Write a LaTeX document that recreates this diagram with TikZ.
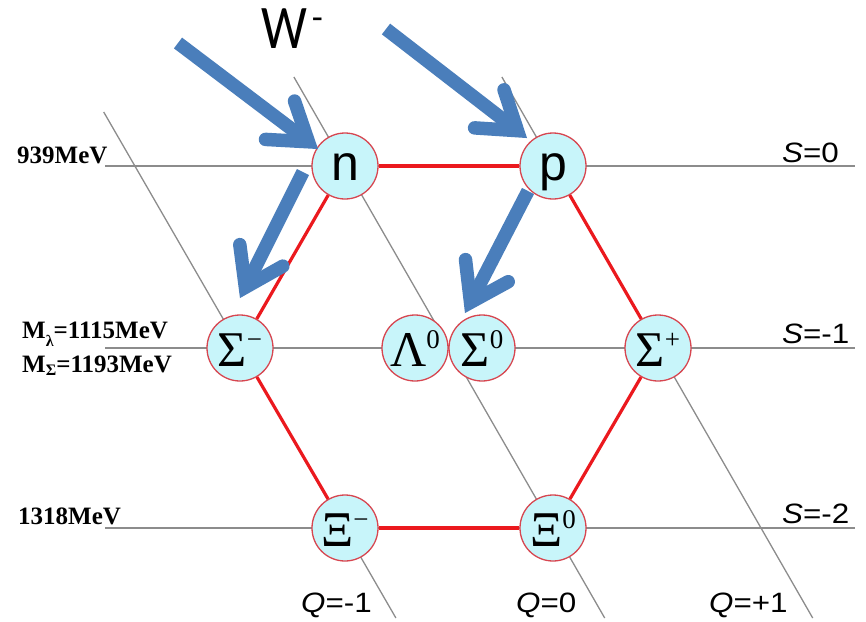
\documentclass[tikz,border=0pt]{standalone}
\usepackage{fontspec}
\setmainfont{Liberation Serif}
\newfontfamily\arialf{Liberation Sans}
\newfontfamily\calibrif{Carlito}
\usetikzlibrary{calc}
\definecolor{gridgray}{RGB}{140,140,140}
\definecolor{hexred}{RGB}{235,25,30}
\definecolor{ballfill}{RGB}{200,245,250}
\definecolor{balledge}{RGB}{215,70,80}
\definecolor{wblue}{RGB}{74,126,187}
\tikzset{
  qsline/.style={gridgray, line width=1.3pt},
  hexedge/.style={hexred, line width=3.2pt},
  baryon/.style={circle, draw=balledge, line width=1.3pt, fill=ballfill,
    minimum size=66pt, inner sep=0pt},
  latinb/.style={baryon, text height=28pt, text depth=0pt,
    font=\arialf\fontsize{50}{50}\selectfont},
  greekb/.style={baryon, text height=36pt, text depth=0pt,
    font=\fontsize{50}{50}\selectfont},
  masslabel/.style={anchor=base west, inner sep=0pt,
    font=\bfseries\fontsize{25}{25}\selectfont},
  qnlabel/.style={anchor=base west, inner sep=0pt,
    font=\arialf\fontsize{28}{28}\selectfont},
  warrow/.style={wblue, line width=13.5pt}
}
\newcommand\supsc[1]{\raisebox{18pt}{\fontsize{27}{27}\selectfont #1}}
\newcommand\qnum[1]{\scalebox{1.12}[1]{#1}}
\newcommand\wbosonarrow[2]{%
  \coordinate (wv) at ($(#2)!12pt!(#1)$);
  \draw[warrow, line cap=butt] (#1) -- (wv);
  \draw[warrow, line cap=round, line join=miter]
    ($(wv)!43pt!34:(#1)$) -- (wv) -- ($(wv)!43pt!-34:(#1)$);
}
\begin{document}
\begin{tikzpicture}[x=1pt,y=-1pt]
\useasboundingbox (0,0) rectangle (866,621);
% strangeness lines
\draw[qsline] (105,166) -- (855,166);
\draw[qsline] (105,348) -- (855,348);
\draw[qsline] (105,528) -- (855,528);
% charge lines
\draw[qsline] (103.7,112) -- (395.9,618);
\draw[qsline] (293.9,77) -- (604.7,618);
\draw[qsline] (501.9,77) -- (812.7,618);
% baryons
\node[latinb] (n) at (345,166) {n};
\node[latinb] (p) at (553,166) {p};
\node[greekb] (Sm) at (240,348) {Σ\supsc{−}};
\node[greekb] (L0) at (415,348) {Λ\supsc{0}};
\node[greekb] (S0) at (482,348) {Σ\supsc{0}};
\node[greekb] (Sp) at (658,348) {Σ\supsc{+}};
\node[greekb] (Xm) at (345,528) {Ξ\supsc{−}};
\node[greekb] (X0) at (553,528) {Ξ\supsc{0}};
% hexagon
\foreach \a/\b in {n/p, p/Sp, Sp/X0, X0/Xm, Xm/Sm, Sm/n}
  \draw[hexedge] (\a) -- (\b);
% mass labels
\node[masslabel] (m939) at (17,163) {939MeV};
\node[masslabel] (mlam) at (22,338) {M\raisebox{-8pt}{\fontsize{16}{16}\selectfont λ}=1115MeV};
\node[masslabel] (msig) at (22,372) {M\raisebox{-3pt}{\fontsize{16}{16}\selectfont Σ}=1193MeV};
\node[masslabel] (m1318) at (18,524) {1318MeV};
% quantum number labels
\node[qnlabel] (s0) at (782,162) {\qnum{\itshape S\upshape=0}};
\node[qnlabel] (s1) at (782,343) {\qnum{\itshape S\upshape=-1}};
\node[qnlabel] (s2) at (782,523) {\qnum{\itshape S\upshape=-2}};
\node[qnlabel] (qm) at (301,612) {\qnum{\itshape Q\upshape=-1}};
\node[qnlabel] (qz) at (516,612) {\qnum{\itshape Q\upshape=0}};
\node[qnlabel] (qp) at (709,612) {\qnum{\itshape Q\upshape=+1}};
% W label
\node[anchor=base west, inner sep=0pt] (wlab) at (261,48)
  {\calibrif\fontsize{62}{62}\selectfont\scalebox{0.83}[1]{W}\hspace{5pt}\raisebox{19pt}{\fontsize{36}{36}\selectfont -}};
% W arrows
\coordinate (s1a) at (178,43);  \coordinate (t1a) at (318,149);
\coordinate (s2a) at (386,29);  \coordinate (t2a) at (527,138);
\coordinate (s3a) at (303,172); \coordinate (t3a) at (240,298);
\coordinate (s4a) at (528,191); \coordinate (t4a) at (465,313);
\wbosonarrow{s1a}{t1a}
\wbosonarrow{s2a}{t2a}
\wbosonarrow{s3a}{t3a}
\wbosonarrow{s4a}{t4a}
\end{tikzpicture}
\end{document}
